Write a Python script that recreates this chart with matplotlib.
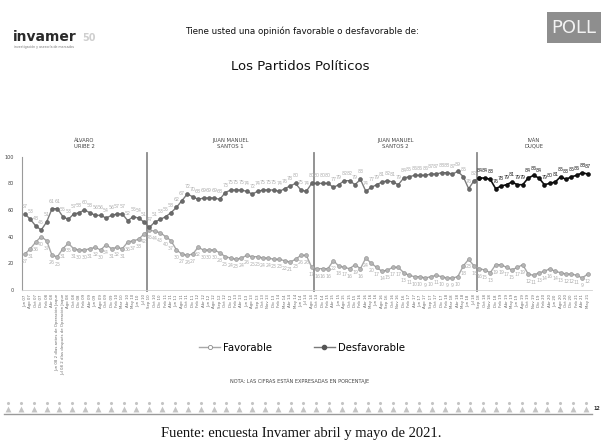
"""
Opinión favorable / desfavorable de los partidos políticos (Invamer Poll).
Guarda out.png.
"""
import numpy as np
import matplotlib.pyplot as plt
from matplotlib.lines import Line2D
from matplotlib.patches import Rectangle

W, H = 602, 446

# Fechas de medición por gobierno
fechas_uribe = ["Jun 07", "Ago 07", "Oct 07", "Dic 07", "Feb 08", "Abr 08",
                "Jun 08 2 días antes de Operación Jaque",
                "Jul 08 2 días después de Operación Jaque",
                "Ago 08", "Oct 08", "Dic 08", "Feb 09", "Abr 09", "Jun 09",
                "Ago 09", "Oct 09", "Dic 09", "Feb 10", "Mar 10", "Abr 10",
                "May 10", "Jun 10", "Jul 10"]
fechas_santos1 = ["Sep 10", "Oct 10", "Dic 10", "Feb 11", "Abr 11", "Jun 11",
                  "Ago 11", "Oct 11", "Dic 11", "Feb 12", "Abr 12", "Jun 12",
                  "Ago 12", "Sep 12", "Oct 12", "Dic 12", "Feb 13", "Abr 13",
                  "Jun 13", "Ago 13", "Sep 13", "Oct 13", "Nov 13", "Dic 13",
                  "Feb 14", "Mar 14", "Abr 14", "May 14", "Jun 14", "Jul 14",
                  "Ago 14"]
fechas_santos2 = ["Oct 14", "Dic 14", "Feb 15", "Abr 15", "Jun 15", "Ago 15",
                  "Oct 15", "Dic 15", "Feb 16", "Abr 16", "May 16", "Jun 16",
                  "Ago 16", "Sep 16", "Oct 16", "Nov 16", "Dic 16", "Feb 17",
                  "Abr 17", "Jun 17", "Ago 17", "Sep 17", "Oct 17", "Dic 17",
                  "Feb 18", "Mar 18", "Abr 18", "May 18", "Jun 18", "Jul 18"]
fechas_duque = ["Sep 18", "Oct 18", "Nov 18", "Dic 18", "Feb 19", "Abr 19",
                "May 19", "Jun 19", "Ago 19", "Oct 19", "Nov 19", "Dic 19",
                "Feb 20", "Abr 20", "Jun 20", "Ago 20", "Oct 20", "Dic 20",
                "Feb 21", "Abr 21", "May 21"]

desfav_uribe = [57, 53, 48, 45, 51, 61, 61, 55, 53, 57, 58, 60, 58, 56, 56, 54,
                56, 57, 57, 52, 55, 54, 51]
fav_uribe = [27, 31, 36, 40, 37, 26, 25, 31, 35, 31, 30, 30, 31, 32, 30, 34,
             31, 32, 31, 36, 37, 38, 42]

desfav_santos1 = [47, 51, 53, 55, 58, 62, 67, 72, 70, 68, 69, 69, 69, 68, 73,
                  75, 75, 75, 74, 72, 74, 75, 75, 75, 74, 76, 78, 80, 75, 74, 80]
fav_santos1 = [45, 44, 43, 40, 37, 30, 27, 26, 27, 32, 30, 30, 30, 28, 25, 24,
               23, 24, 26, 25, 25, 24, 24, 23, 23, 22, 21, 23, 26, 26, 17]

desfav_santos2 = [80, 80, 80, 77, 79, 82, 82, 79, 83, 74, 77, 79, 81, 82, 81,
                  79, 84, 85, 86, 86, 86, 87, 87, 88, 88, 87, 89, 85, 76, 82]
fav_santos2 = [16, 16, 16, 22, 18, 17, 16, 19, 16, 24, 20, 17, 14, 15, 17, 17,
               13, 11, 10, 10, 9, 10, 11, 10, 9, 9, 10, 18, 23, 18]

desfav_duque = [84, 84, 83, 76, 78, 79, 81, 79, 79, 84, 86, 84, 79, 80, 81, 85,
                83, 85, 86, 88, 87]
fav_duque = [16, 15, 13, 19, 19, 17, 15, 17, 19, 12, 11, 13, 14, 16, 14, 13,
             12, 12, 11, 9, 12]

gobiernos = ["ÁLVARO\nURIBE 2", "JUAN MANUEL\nSANTOS 1",
             "JUAN MANUEL\nSANTOS 2", "IVÁN\nDUQUE"]

fechas = fechas_uribe + fechas_santos1 + fechas_santos2 + fechas_duque
fav = np.array(fav_uribe + fav_santos1 + fav_santos2 + fav_duque)
desfav = np.array(desfav_uribe + desfav_santos1 + desfav_santos2 + desfav_duque)
x = np.arange(len(fechas))

# límites de cada gobierno (índices)
tramos = np.cumsum([0, len(fechas_uribe), len(fechas_santos1),
                    len(fechas_santos2), len(fechas_duque)])
ini_duque = tramos[3]


def fx(px):
    return px / W


def fy(py):
    return 1 - py / H


fig = plt.figure(figsize=(W / 100, H / 100), dpi=100)
fig.patch.set_facecolor("white")

# ---- gráfico principal ----
ax = fig.add_axes([fx(22), fy(290), fx(570), (290 - 156.7) / H])
ax.set_xlim(-0.55, len(x) - 0.2)
ax.set_ylim(0, 100)

GRIS = "#7a7a7a"
GRIS_CLARO = "#a8a8a8"

ax.plot(x, fav, color=GRIS_CLARO, lw=1.0, marker="o", ms=2.8,
        mfc="#b5b5b5", mec="#8c8c8c", mew=0.4, zorder=3)
ax.plot(x[:ini_duque + 1], desfav[:ini_duque + 1], color=GRIS, lw=1.0,
        marker="o", ms=2.8, mfc="#6a6a6a", mec="#555555", mew=0.4, zorder=3)
ax.plot(x[ini_duque:], desfav[ini_duque:], color="#111111", lw=1.2,
        marker="o", ms=2.8, mfc="#111111", mec="#000000", mew=0.4, zorder=4)

# etiquetas de datos
for xi, v in zip(x, desfav):
    c = "#222222" if xi >= ini_duque else "#b0b0b0"
    ax.annotate(str(v), (xi, v), xytext=(0, 3.5), textcoords="offset points",
                ha="center", va="bottom", fontsize=3.4, color=c)
for xi, v in zip(x, fav):
    ax.annotate(str(v), (xi, v), xytext=(0, -3.5), textcoords="offset points",
                ha="center", va="top", fontsize=3.4, color="#b0b0b0")

# separadores entre gobiernos
for t in tramos[1:4]:
    ax.plot([t - 0.5, t - 0.5], [-1, 103], color="#8a8a8a", lw=1.3,
            clip_on=False, zorder=2)

# nombres de gobiernos
for i, nombre in enumerate(gobiernos):
    cx = (tramos[i] + tramos[i + 1] - 1) / 2
    ax.text(cx, 110, nombre, ha="center", va="center", fontsize=3.8,
            color="#444444", linespacing=1.3, clip_on=False)

ax.set_yticks([0, 20, 40, 60, 80, 100])
ax.tick_params(axis="y", length=0, labelsize=3.5, labelcolor="#444444", pad=6)
ax.set_xticks(x)
ax.set_xticklabels(fechas, rotation=90, fontsize=2.8, color="#6a6a6a")
ax.tick_params(axis="x", length=0, pad=3)
for s in ["top", "right"]:
    ax.spines[s].set_visible(False)
ax.spines["left"].set_color("#9a9a9a")
ax.spines["left"].set_linewidth(0.8)
ax.spines["bottom"].set_color("#d0d0d0")
ax.spines["bottom"].set_linewidth(0.6)
ax.set_facecolor("none")

# leyenda
handles = [
    Line2D([], [], color=GRIS_CLARO, lw=1.0, marker="o", ms=3,
           mfc="white", mec="#8c8c8c", mew=0.6),
    Line2D([], [], color=GRIS, lw=1.0, marker="o", ms=3,
           mfc="#555555", mec="#555555"),
]
fig.legend(handles, ["Favorable", "Desfavorable"], loc="center",
           bbox_to_anchor=(fx(302), fy(348)), ncol=2, frameon=False,
           fontsize=7.3, handlelength=2.0, handletextpad=0.3,
           columnspacing=4.2)

# ---- textos de cabecera y pie ----
fig.text(fx(302), fy(31), "Tiene usted una opinión favorable o desfavorable de:",
         ha="center", va="center", fontsize=6.3, color="#111111")
fig.text(fx(300), fy(66), "Los Partidos Políticos", ha="center", va="center",
         fontsize=9.5, color="#111111")
fig.text(fx(300), fy(381), "NOTA: LAS CIFRAS ESTÁN EXPRESADAS EN PORCENTAJE",
         ha="center", va="center", fontsize=3.6, color="#444444")
fig.text(fx(301), fy(433), "Fuente: encuesta Invamer abril y mayo de 2021.",
         ha="center", va="center", fontsize=10.5, color="#111111",
         family="Liberation Serif")

# logo invamer
fig.text(fx(13), fy(37), "invamer", ha="left", va="center", fontsize=10,
         fontweight="bold", color="#2a2a2a")
fig.text(fx(82), fy(38), "50", ha="left", va="center", fontsize=7,
         fontweight="bold", color="#cfcfcf")
fig.text(fx(14), fy(47), "investigación y asesoría de mercados", ha="left",
         va="center", fontsize=2.3, color="#777777")

# capa de decoración en píxeles
deco = fig.add_axes([0, 0, 1, 1], zorder=-1)
deco.set_xlim(0, W)
deco.set_ylim(H, 0)
deco.axis("off")

# logo POLL
deco.add_patch(Rectangle((547, 12), 54, 31, facecolor="#8e8e8e",
                         edgecolor="none"))
deco.text(574, 28, "POLL", ha="center", va="center", fontsize=13,
          color="#f2f2f2")

# fila de figuras y línea del pie de página
iconos = np.linspace(8, 586, 46)
deco.scatter(iconos, np.full_like(iconos, 409), marker="^", s=18,
             color="#c4c4c4", linewidths=0)
deco.scatter(iconos, np.full_like(iconos, 403), marker="o", s=5,
             color="#c4c4c4", linewidths=0)
deco.plot([4, 592], [414, 414], color="#9a9a9a", lw=1.0)
deco.text(597, 408, "12", ha="center", va="center", fontsize=3.5,
          color="#333333", fontweight="bold")

fig.savefig("out.png", dpi=100, facecolor="white")
